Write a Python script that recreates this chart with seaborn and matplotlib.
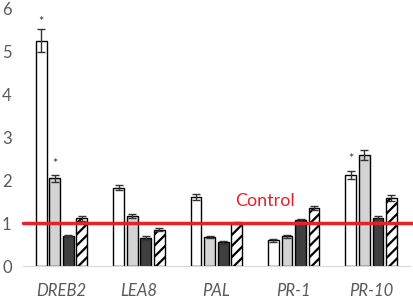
import matplotlib
matplotlib.use("Agg")
import matplotlib.pyplot as plt
import seaborn as sns
import pandas as pd
import numpy as np

genes = ["DREB2", "LEA8", "PAL", "PR-1", "PR-10"]
treatments = ["T1", "T2", "T3", "T4"]
values_t1 = [5.24, 1.82, 1.61, 0.60, 2.12]
values_t2 = [2.04, 1.17, 0.67, 0.69, 2.58]
values_t3 = [0.71, 0.65, 0.55, 1.08, 1.13]
values_t4 = [1.11, 0.85, 1.00, 1.35, 1.59]
err_t1 = [0.27, 0.06, 0.07, 0.03, 0.09]
err_t2 = [0.08, 0.04, 0.02, 0.03, 0.11]
err_t3 = [0.02, 0.05, 0.04, 0.02, 0.03]
err_t4 = [0.05, 0.04, 0.02, 0.05, 0.07]
# significance asterisks: (treatment index, gene index, y)
stars = [(0, 0, 5.68), (1, 0, 2.38), (0, 4, 2.5)]
control_level = 1.0

vals = [values_t1, values_t2, values_t3, values_t4]
errs = [err_t1, err_t2, err_t3, err_t4]
df = pd.DataFrame({
    "gene": [g for _ in treatments for g in genes],
    "treat": [t for t in treatments for _ in genes],
    "value": [v for vs in vals for v in vs],
})

sns.set_style("white")
plt.rcParams['font.family'] = ['Lato', 'DejaVu Sans']
plt.rcParams['hatch.linewidth'] = 1.6

fig = plt.figure(figsize=(4.14, 3.0), dpi=100)
ax = fig.add_axes([0.055, 0.113, 0.935, 0.86])

colors = ["#ffffff", "#d3d3d3", "#3f3f3f", "#ffffff"]
sns.barplot(data=df, x="gene", y="value", hue="treat", order=genes,
            hue_order=treatments, palette=colors, width=0.7, gap=0.2,
            edgecolor="black", linewidth=1.0, legend=False, ax=ax, errorbar=None)

bar_containers = list(ax.containers)
for i, cont in enumerate(bar_containers):
    xs = []
    for j, p in enumerate(cont.patches):
        if i == 3:
            p.set_hatch("///")
        xs.append(p.get_x() + p.get_width() / 2)
    ax.errorbar(xs, vals[i], yerr=errs[i], fmt="none", ecolor="#333333",
                elinewidth=1.0, capsize=3, capthick=1.0, zorder=5)

for ti, gi, y in stars:
    p = bar_containers[ti].patches[gi]
    ax.text(p.get_x() + p.get_width() / 2, y, "*", ha="center", va="center",
            fontsize=9, color="#333333")

ax.axhline(control_level, color="#e8202a", linewidth=2.5, zorder=6, clip_on=False,
           xmin=-0.0, xmax=1.02)
ax.text(2.63, control_level + 0.52, "Control", color="#e8202a", fontsize=13,
        ha="center", va="center")

ax.set_ylim(0, 6)
ax.set_xlim(-0.5, 4.5)
ax.set_yticks(range(0, 7))
ax.set_xlabel("")
ax.set_ylabel("")
for s in ["top", "right", "left"]:
    ax.spines[s].set_visible(False)
ax.spines["bottom"].set_color("#d9d9d9")
ax.tick_params(axis="y", length=0, labelsize=12, labelcolor="#595959", pad=8)
ax.tick_params(axis="x", length=0, labelsize=12, labelcolor="#595959", pad=12)
for lbl in ax.get_xticklabels():
    lbl.set_style("italic")

fig.savefig("out.png", dpi=100)
